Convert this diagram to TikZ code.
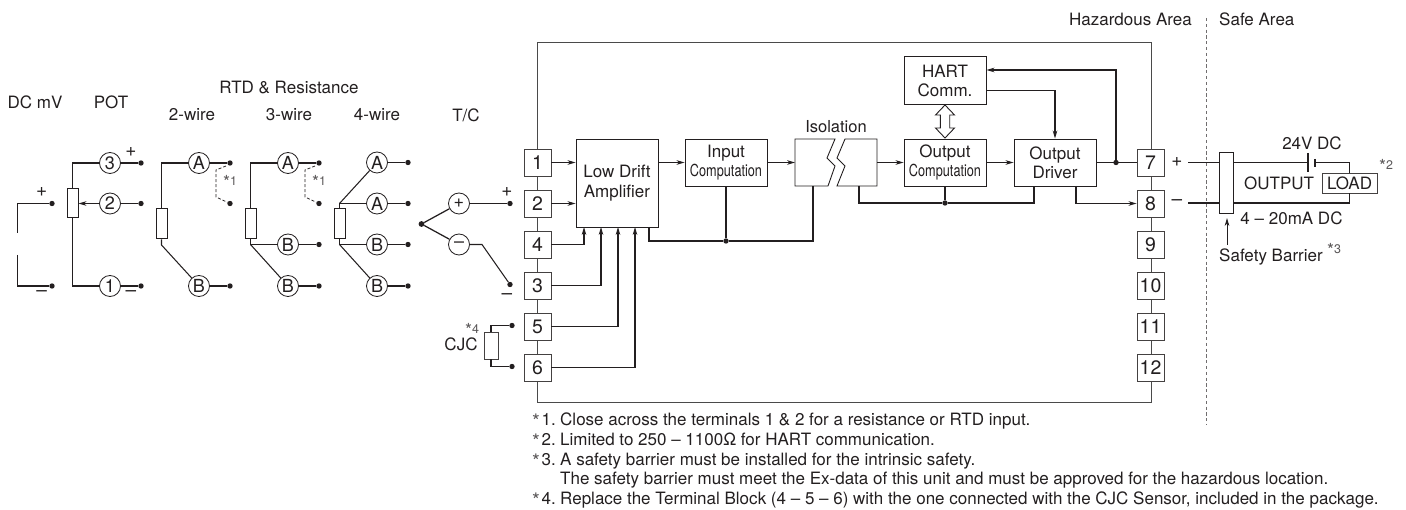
\documentclass[tikz,border=0pt]{standalone}
\usepackage{fontspec}
\usepackage{graphicx}
\setmainfont{TeX Gyre Heros}
\usetikzlibrary{arrows.meta}
\definecolor{ink}{HTML}{231F20}
\definecolor{frame}{HTML}{4A4A4A}
\newcommand{\fsz}[1]{\fontsize{#1}{#1}\selectfont}
\newcommand{\cmpt}{\scalebox{0.77}[1]{\fsz{16.5}Computation}}
\newcommand{\nmark}[1]{\makebox[28pt][l]{\makebox[9.5pt][l]{\raisebox{-3pt}{\fsz{20}\color{ink!75}*}}#1.}}
\newcommand{\lstar}{\raisebox{-3pt}{\fsz{18}*}}
\tikzset{
  wire/.style={draw=ink,line width=1.05pt},
  thick wire/.style={draw=ink,line width=1.25pt},
  arr/.style={wire,-{Stealth[length=8pt,width=4.6pt,inset=2.4pt]}},
  dashwire/.style={draw=ink,line width=0.8pt,dash pattern=on 3pt off 2pt},
  txt/.style={inner sep=0pt,text=ink,font=\fsz{17}},
  noteline/.style={inner sep=0pt,anchor=base west,text=ink,font=\fsz{17}},
  star/.style={inner sep=0pt,text=ink!75,font=\fsz{12.5}},
  dot/.style={circle,fill=ink,inner sep=0pt,minimum size=5.4pt},
  term/.style={draw=ink!85,line width=0.9pt,fill=white,inner sep=0pt,minimum width=27pt,minimum height=27pt,text=ink,font=\fsz{19.5}},
  ring/.style={circle,draw=ink,line width=0.8pt,fill=white,inner sep=0pt,minimum size=21pt,text=ink,font=\fsz{18}},
  res/.style={draw=ink,line width=1pt,fill=white,inner sep=0pt,minimum width=11pt,minimum height=30pt},
  block/.style={draw=ink,line width=0.9pt,fill=white,inner sep=0pt,align=center,text=ink,font=\fsz{17}},
  sign/.style={inner sep=0pt,text=ink,font=\fsz{19}},
}
\begin{document}
\begin{tikzpicture}[x=1pt,y=-1pt]
\useasboundingbox (0,0) rectangle (1406,510);
% outer frame
\node[draw=frame,line width=0.9pt,inner sep=0pt,minimum width=613.5pt,minimum height=360pt] (frame) at (844.25,222) {};
% headings
\node[txt] (hdc) at (35,102) {DC mV};
\node[txt] (hpot) at (111,102) {POT};
\node[txt] (hrtd) at (289,88) {RTD \& Resistance};
\node[txt] (h2) at (192,115) {2-wire};
\node[txt] (h3) at (289,115) {3-wire};
\node[txt] (h4) at (377,115) {4-wire};
\node[txt] (htc) at (466,115) {T/C};
\node[txt,anchor=east] (hhaz) at (1192,19) {Hazardous Area};
\node[txt,anchor=west] (hsafe) at (1219,19) {Safe Area};
% DC mV
\node[dot] (dcp) at (52,203.5) {};
\node[dot] (dcm) at (52,286) {};
\coordinate (dcpe) at (17.5,233);
\coordinate (dcme) at (17.5,255);
\draw[wire] (dcpe) |- (dcp);
\draw[wire] (dcme) |- (dcm);
\node[sign] (dcps) at (41.7,192) {+};
\node[sign] (dcms) at (41.7,294) {–};
% POT
\node[res,minimum height=29pt] (rp) at (72.5,203.5) {};
\node[ring] (c3) at (110,163) {3};
\node[ring] (c2) at (110,203.5) {2};
\node[ring] (c1) at (110,286) {1};
\node[dot] (d3) at (141,163) {};
\node[dot] (d2) at (141,203.5) {};
\node[dot] (d1) at (141,286) {};
\draw[wire] (rp.north) |- (c3);
\draw[wire] (rp.south) |- (c1);
\draw[wire] (c3) -- (d3);
\draw[wire] (c1) -- (d1);
\draw[wire] (c2) -- (d2);
\draw[arr] (c2) -- (rp);
\node[sign] (ps) at (131,152) {+};
\node[sign] (ms) at (131,294) {–};
% 2-wire
\node[res] (r2) at (161.5,224) {};
\node[ring] (a2) at (199,163) {A};
\node[ring] (b2) at (199,286) {B};
\node[dot] (a2d) at (230,163) {};
\node[dot] (j2d) at (230,203.5) {};
\node[dot] (b2d) at (230,286) {};
\coordinate (k2) at (161.5,245);
\draw[wire] (r2.north) |- (a2);
\draw[wire] (a2) -- (a2d);
\draw[wire] (r2.south) -- (k2) -- (b2);
\draw[wire] (b2) -- (b2d);
\coordinate (q2a) at (226,166);
\coordinate (q2b) at (216,170);
\coordinate (q2c) at (216,197);
\draw[dashwire] (q2a) -- (q2b) -- (q2c) -- (j2d);
\node[star] (s21) at (230,182) {\lstar 1};
% 3-wire
\node[res] (r3) at (250.5,224) {};
\node[ring] (a3) at (288,163) {A};
\node[ring] (b3) at (288,244.5) {B};
\node[ring] (bb3) at (288,286) {B};
\node[dot] (a3d) at (319,163) {};
\node[dot] (j3d) at (319,203.5) {};
\node[dot] (b3d) at (319,244.5) {};
\node[dot] (bb3d) at (319,286) {};
\coordinate (k3) at (250.5,244.5);
\draw[wire] (r3.north) |- (a3);
\draw[wire] (a3) -- (a3d);
\draw[wire] (r3.south) -- (k3) -- (b3);
\draw[wire] (k3) -- (bb3);
\draw[wire] (b3) -- (b3d);
\draw[wire] (bb3) -- (bb3d);
\coordinate (q3a) at (315,166);
\coordinate (q3b) at (305,170);
\coordinate (q3c) at (305,197);
\draw[dashwire] (q3a) -- (q3b) -- (q3c) -- (j3d);
\node[star] (s31) at (319,182) {\lstar 1};
% 4-wire
\node[res] (r4) at (339.5,224) {};
\node[ring] (a4) at (377,162.5) {A};
\node[ring] (aa4) at (377,203.5) {A};
\node[ring] (b4) at (377,244.5) {B};
\node[ring] (bb4) at (377,286) {B};
\node[dot] (a4d) at (408,162.5) {};
\node[dot] (aa4d) at (408,203.5) {};
\node[dot] (b4d) at (408,244.5) {};
\node[dot] (bb4d) at (408,286) {};
\coordinate (k4t) at (339.5,203.5);
\coordinate (k4b) at (339.5,244.5);
\draw[wire] (r4.north) -- (k4t) -- (aa4);
\draw[wire] (k4t) -- (a4);
\draw[wire] (r4.south) -- (k4b) -- (b4);
\draw[wire] (k4b) -- (bb4);
\draw[wire] (a4) -- (a4d);
\draw[wire] (aa4) -- (aa4d);
\draw[wire] (b4) -- (b4d);
\draw[wire] (bb4) -- (bb4d);
% T/C
\node[dot,minimum size=5.8pt] (tcj) at (421.5,224) {};
\node[ring] (tcp) at (459,203.5) {+};
\node[ring] (tcm) at (459,244.5) {–};
\node[dot] (tcpd) at (510,203.5) {};
\node[dot] (tcmd) at (510,284.5) {};
\coordinate (tck) at (482,244.5);
\draw[thick wire] (tcj) -- (tcp);
\draw[thick wire] (tcj) -- (tcm);
\draw[wire] (tcp) -- (tcpd);
\draw[wire] (tcm) -- (tck) -- (tcmd);
\node[sign] (tcps) at (507,192) {+};
\node[sign] (tcms) at (507,297) {–};
% CJC
\node[res,draw=ink!85,line width=0.8pt,minimum width=14pt,minimum height=27pt] (rc) at (491,345.5) {};
\node[dot] (cjt) at (512,325.5) {};
\node[dot] (cjb) at (512,366.5) {};
\draw[wire] (rc.north) |- (cjt);
\draw[wire] (rc.south) |- (cjb);
\node[txt] (cjc) at (461,344) {CJC};
\node[star] (s4) at (472,330) {\lstar 4};
% terminals
\node[term] (t1) at (537.5,162.5) {1};
\node[term] (t2) at (537.5,203.5) {2};
\node[term] (t4) at (537.5,244.5) {4};
\node[term] (t3) at (537.5,285.5) {3};
\node[term] (t5) at (537.5,326.5) {5};
\node[term] (t6) at (537.5,367.5) {6};
\node[term] (t7) at (1150.5,162.5) {7};
\node[term] (t8) at (1150.5,203.5) {8};
\node[term] (t9) at (1150.5,244.5) {9};
\node[term] (t10) at (1150.5,285.5) {10};
\node[term] (t11) at (1150.5,326.5) {11};
\node[term] (t12) at (1150.5,367.5) {12};
% blocks
\node[block,minimum width=82pt,minimum height=88pt] (lda) at (617,183) {Low Drift\\[3pt]Amplifier};
\node[block,minimum width=82pt,minimum height=47pt] (inp) at (726,162.5) {Input\\[2pt]\cmpt};
\node[block,minimum width=82pt,minimum height=47pt] (oc) at (945,162.5) {Output\\[2pt]\cmpt};
\node[block,minimum width=82pt,minimum height=47pt] (od) at (1055,162.5) {Output\\[2pt]Driver};
\node[block,minimum width=82pt,minimum height=47.5pt] (hart) at (945,80.5) {HART\\[2pt]Comm.};
% isolation
\coordinate (isoL) at (795,162.5);
\coordinate (isoR) at (877,162.5);
\coordinate (isoLb) at (813,186);
\coordinate (isoRb) at (859,186);
\draw[draw=ink,line width=0.9pt] (835,139) -- (795,139) -- (795,186) -- (828,186) -- (835,166) -- (827,158) -- cycle;
\draw[draw=ink,line width=0.9pt] (845,139) -- (877,139) -- (877,186) -- (837,186) -- (845,166) -- (837,158) -- cycle;
\node[txt,font=\fsz{16.5}] (iso) at (836,127) {Isolation};
% connectors
\draw[arr] (t1) -- (lda.west |- t1);
\draw[arr] (t2) -- (lda.west |- t2);
\draw[arr] (lda.east |- inp) -- (inp);
\draw[arr] (inp) -- (isoL);
\draw[arr] (isoR) -- (oc);
\draw[arr] (oc) -- (od);
\node[dot] (j7) at (1116,162.5) {};
\draw[wire] (od) -- (t7);
\coordinate (hk) at (1116,70);
\draw[arr] (j7) -- (hk) -- (hart.east |- hk);
\coordinate (hout) at (986,90.5);
\draw[arr] (hout) -| (od.north);
\coordinate (odb) at (1076,186);
\draw[arr] (odb) |- (t8);
\node[dot] (jb) at (945,203) {};
\coordinate (odl) at (1034,186);
\draw[thick wire] (isoRb) |- (jb);
\draw[thick wire] (jb) -| (odl);
\draw[thick wire] (oc.south) -- (jb);
\coordinate (ldab) at (649,227);
\node[dot] (ja) at (726,241) {};
\draw[thick wire] (ldab) |- (ja);
\draw[thick wire] (ja) -| (isoLb);
\draw[thick wire] (inp.south) -- (ja);
\coordinate (l4) at (584,227);
\coordinate (l3) at (601,227);
\coordinate (l5) at (618,227);
\coordinate (l6) at (635,227);
\draw[arr] (t4) -| (l4);
\draw[arr] (t3) -| (l3);
\draw[arr] (t5) -| (l5);
\draw[arr] (t6) -| (l6);
% double arrow
\draw[draw=ink,line width=0.9pt,fill=white] (945,105) -- (954.5,115) -- (949.7,115) -- (949.7,128) -- (954.5,128) -- (945,138) -- (935.5,128) -- (940.3,128) -- (940.3,115) -- (935.5,115) -- cycle;
% right side
\coordinate (sepT) at (1206,18);
\coordinate (sepB) at (1206,425);
\draw[draw=ink!65,line width=0.9pt,dash pattern=on 3.2pt off 2.6pt] (sepT) -- (sepB);
\node[sign] (p7) at (1177,162.5) {+};
\node[sign] (m8) at (1177,203) {–};
\coordinate (w7) at (1188,162.5);
\coordinate (w8) at (1188,203);
\node[draw=ink,line width=0.9pt,inner sep=0pt,minimum width=14pt,minimum height=61pt] (bar) at (1226,182.5) {};
\draw[wire] (w7) -- (bar.west |- w7);
\draw[wire] (w8) -- (bar.west |- w8);
\coordinate (cap1) at (1308,162.5);
\coordinate (cap1a) at (1308,153);
\coordinate (cap1b) at (1308,172);
\coordinate (cap2) at (1315,162.5);
\coordinate (cap2a) at (1315,159);
\coordinate (cap2b) at (1315,167);
\draw[wire] (bar.east |- cap1) -- (cap1);
\draw[wire] (cap1a) -- (cap1b);
\draw[wire] (cap2a) -- (cap2b);
\node[draw=ink!85,line width=0.9pt,inner sep=0pt,minimum width=55pt,minimum height=20pt,text=ink,font=\fsz{17}] (load) at (1349.5,183) {LOAD};
\draw[wire] (cap2) -| (load.north);
\draw[wire] (bar.east |- w8) -| (load.south);
\node[txt] (v24) at (1312,143) {24V DC};
\node[txt,anchor=west] (outp) at (1244,183) {OUTPUT};
\node[txt] (ma) at (1291.5,218) {4 – 20mA DC};
\node[txt,anchor=west] (sb) at (1219,257) {Safety Barrier};
\node[star] (s3) at (1334,250) {\lstar 3};
\node[star] (s2) at (1386,166) {\lstar 2};
\coordinate (sbt) at (1227,245);
\coordinate (sbh) at (1227,218);
\draw[wire,line width=0.9pt,-{Stealth[length=8pt,width=4.6pt,inset=2.4pt]}] (sbt) -- (sbh);
% notes
\node[noteline] (n1) at (532,426) {\nmark{1}Close across the terminals 1 \& 2 for a resistance or RTD input.};
\node[noteline] (n2) at (532,445.5) {\nmark{2}Limited to 250 – 1100Ω for HART communication.};
\node[noteline] (n3) at (532,465) {\nmark{3}A safety barrier must be installed for the intrinsic safety.};
\node[noteline] (n3b) at (560,485) {The safety barrier must meet the Ex-data of this unit and must be approved for the hazardous location.};
\node[noteline] (n4) at (532,504) {\nmark{4}Replace the Terminal Block (4 – 5 – 6) with the one connected with the CJC Sensor, included in the package.};
\end{tikzpicture}
\end{document}
